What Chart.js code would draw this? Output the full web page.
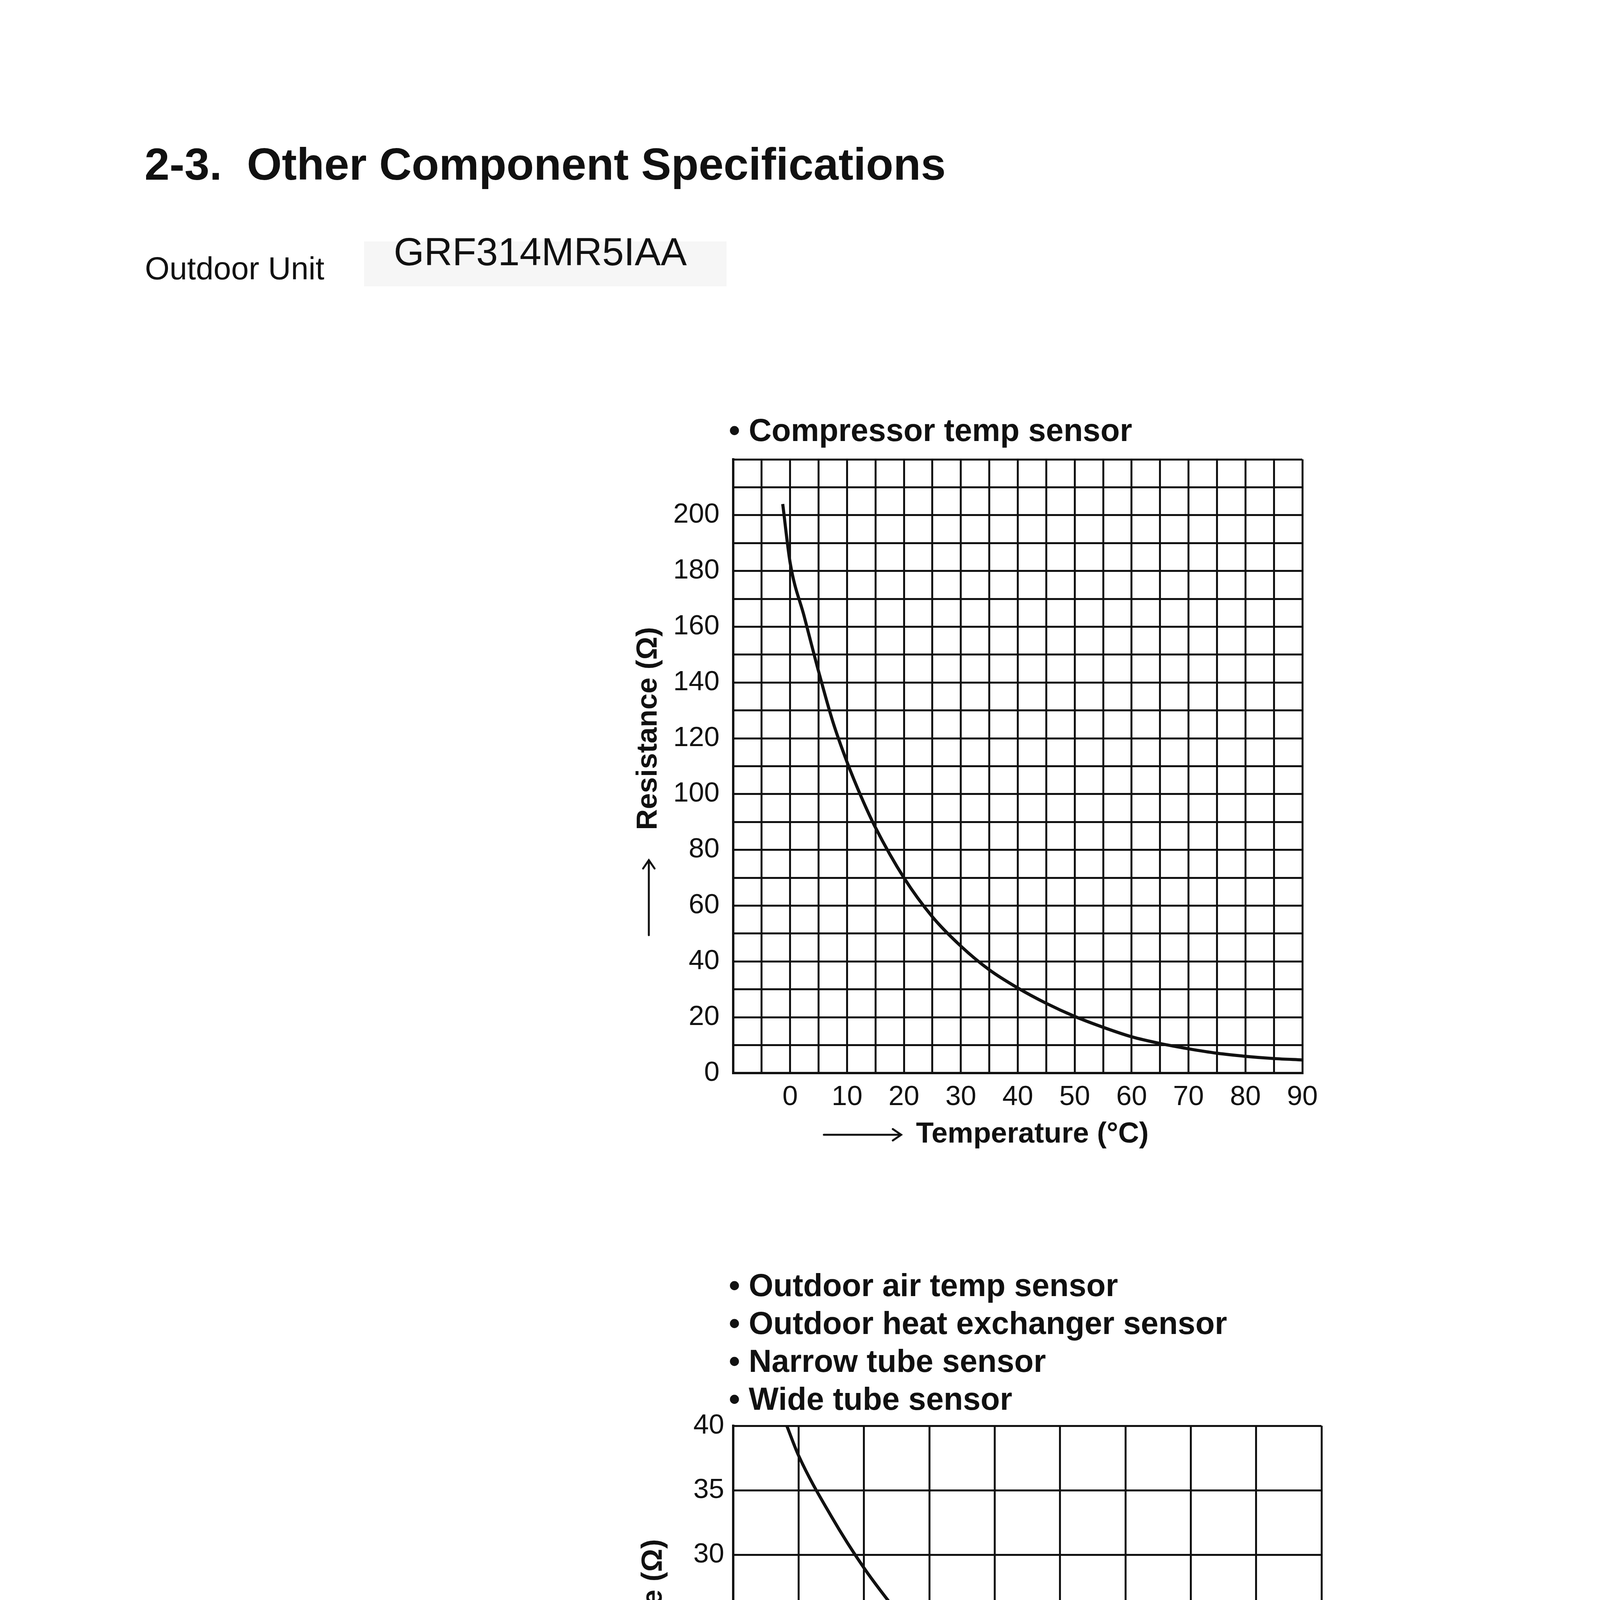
<!DOCTYPE html>
<html>
<head>
<meta charset="utf-8">
<script src="https://cdn.jsdelivr.net/npm/chart.js@4.4.1/dist/chart.umd.min.js"></script>
<style>
  html, body { margin: 0; padding: 0; background: #fff; }
  body { width: 4879px; height: 6833px; position: relative; overflow: hidden;
         font-family: "Liberation Sans", Arial, sans-serif; color: #111; }
  .txt { position: absolute; line-height: 1; white-space: pre; }
  canvas { position: absolute; }
</style>
</head>
<body>
<div class="txt" style="left:370px; top:363px; font-size:115px; font-weight:bold;">2-3.  Other Component Specifications</div>
<div class="txt" style="left:371px; top:647px; font-size:81px;">Outdoor Unit</div>
<div style="position:absolute; left:932px; top:618px; width:928px; height:115px; background:#f6f6f6;"></div>
<div class="txt" style="left:1008px; top:594px; font-size:100px;">GRF314MR5IAA</div>
<div class="txt" style="left:2432px; top:6403px; font-size:75px; font-weight:bold;">4</div>
<div style="position:absolute; left:0; top:6818px; width:4879px; height:15px; background:#111;"></div>

<canvas id="compChart" width="1950" height="2000" style="left:1550px; top:1000px; width:1950px; height:2000px;"></canvas>
<canvas id="airChart" width="2000" height="2000" style="left:1550px; top:3200px; width:2000px; height:2000px;"></canvas>

<script>
// compressor temp sensor curve
const compTemps = [-1.3, 0, 2.5, 5, 7.5, 10, 12.5, 15, 20, 25, 30, 35, 40, 45, 50, 55, 60, 65, 70, 75, 80, 85, 90];
const compRes = [204, 183, 163.5, 144, 126, 111.5, 99, 88, 70, 56, 45.5, 37, 30.5, 25, 20.3, 16.4, 13, 10.6, 8.7, 7.1, 6, 5.2, 4.7];
const compXTicks = [0, 10, 20, 30, 40, 50, 60, 70, 80, 90];
const compYTicks = [0, 20, 40, 60, 80, 100, 120, 140, 160, 180, 200];
const compNames = ['Compressor temp sensor'];

// outdoor air / heat exchanger / tube sensors
const airTemps = [-20.9, -20, -17.5, -15, -12, -10, -7.4, -5, 0, 5, 10, 15, 20];
const airRes = [40, 37.7, 33, 29, 25, 22.6, 20, 17.9, 14.5, 11.8, 9.4, 7.5, 5.9];
const airXTicks = [-20, -15, -10, -5, 0, 5, 10, 15, 20];
const airXLabels = ['\u221220', '\u221215', '\u221210', '\u22125', '0', '5', '10', '15', '20'];
const airYTicks = [0, 5, 10, 15, 20, 25, 30, 35, 40];
const airNames = ['Outdoor air temp sensor', 'Outdoor heat exchanger sensor', 'Narrow tube sensor', 'Wide tube sensor'];

const xTitle = 'Temperature (\u00B0C)';
const yTitle = 'Resistance (\u03A9)';

const FAMILY = "'Liberation Sans', 'DejaVu Sans', Arial, sans-serif";
const INK = '#111';

function arrow(ctx, x1, y1, x2, y2) {
    const ang = Math.atan2(y2 - y1, x2 - x1);
    const h = 26;
    ctx.beginPath();
    ctx.moveTo(x1, y1);
    ctx.lineTo(x2, y2);
    ctx.moveTo(x2 - h * Math.cos(ang - 0.6), y2 - h * Math.sin(ang - 0.6));
    ctx.lineTo(x2, y2);
    ctx.lineTo(x2 - h * Math.cos(ang + 0.6), y2 - h * Math.sin(ang + 0.6));
    ctx.stroke();
}

// bullet lines above the plot and the arrowed axis captions
const captions = {
    id: 'captions',
    afterDraw(chart, args, o) {
        const ctx = chart.ctx;
        const a = chart.chartArea;
        const n = o.lines.length;
        ctx.save();
        ctx.fillStyle = INK;
        ctx.strokeStyle = INK;
        ctx.lineWidth = 5;
        ctx.lineCap = 'round';
        ctx.textBaseline = 'middle';
        ctx.textAlign = 'left';

        ctx.font = 'bold 81px ' + FAMILY;
        o.lines.forEach((t, i) => {
            ctx.fillText('\u2022 ' + t, a.left - 11, a.top - o.lastGap - (n - 1 - i) * o.lineGap);
        });

        ctx.font = 'bold 74px ' + FAMILY;
        const xy = a.bottom + o.x.dy;
        arrow(ctx, a.left + o.x.from, xy, a.left + o.x.to, xy);
        ctx.fillText(xTitle, a.left + o.x.textAt, xy);

        const yx = a.left - o.y.dx;
        arrow(ctx, yx, a.bottom - o.y.from, yx, a.bottom - o.y.to);
        ctx.translate(yx, a.bottom - o.y.textAt);
        ctx.rotate(-Math.PI / 2);
        ctx.fillText(yTitle, 0, 0);
        ctx.restore();
    }
};

function makeChart(id, cfg) {
    const points = cfg.temps.map((t, i) => ({ x: t, y: cfg.res[i] }));
    return new Chart(document.getElementById(id), {
        type: 'scatter',
        data: {
            datasets: [{
                data: points,
                showLine: true,
                borderColor: INK,
                borderWidth: 8,
                pointRadius: 0,
                cubicInterpolationMode: 'monotone'
            }]
        },
        options: {
            responsive: false,
            devicePixelRatio: 1,
            animation: false,
            layout: { padding: cfg.padding },
            plugins: {
                legend: { display: false },
                tooltip: { enabled: false },
                captions: { lines: cfg.names, lineGap: 97, lastGap: cfg.lastGap, x: cfg.xCap, y: cfg.yCap }
            },
            scales: {
                x: {
                    type: 'linear',
                    min: cfg.xMin, max: cfg.xMax,
                    afterFit: (s) => { s.height = cfg.xHeight; },
                    grid: { color: INK, lineWidth: 5, drawTicks: false },
                    border: { color: INK, width: 6 },
                    ticks: {
                        stepSize: cfg.xStep,
                        autoSkip: false,
                        maxRotation: 0,
                        padding: cfg.xPad,
                        color: INK,
                        font: { family: FAMILY, size: 71 },
                        callback: (v) => {
                            const k = cfg.xTicks.indexOf(v);
                            return k < 0 ? '' : cfg.xLabels[k];
                        }
                    }
                },
                y: {
                    type: 'linear',
                    min: 0, max: cfg.yMax,
                    afterFit: (s) => { s.width = 307; },
                    grid: { color: INK, lineWidth: 5, drawTicks: false },
                    border: { color: INK, width: 6 },
                    ticks: {
                        stepSize: cfg.yStep,
                        autoSkip: false,
                        padding: cfg.yPad,
                        color: INK,
                        font: { family: FAMILY, size: 71 },
                        callback: (v) => cfg.yTicks.includes(v) ? String(v) : ''
                    }
                }
            }
        },
        plugins: [captions]
    });
}

makeChart('compChart', {
    temps: compTemps, res: compRes, names: compNames, lastGap: 69,
    padding: { left: 20, top: 176, right: 166, bottom: 0 },
    xMin: -10, xMax: 90, xStep: 5, xHeight: 253, xPad: 20,
    xTicks: compXTicks, xLabels: compXTicks.map(String),
    yMax: 220, yStep: 10, yPad: 35, yTicks: compYTicks,
    xCap: { dy: 158, from: 232, to: 430, textAt: 468 },
    yCap: { dx: 216, from: 353, to: 545, textAt: 622 }
});

makeChart('airChart', {
    temps: airTemps, res: airRes, names: airNames, lastGap: 63,
    padding: { left: 20, top: 450, right: 167, bottom: 0 },
    xMin: -25, xMax: 20, xStep: 5, xHeight: 227, xPad: 14,
    xTicks: airXTicks, xLabels: airXLabels,
    yMax: 40, yStep: 5, yPad: 23, yTicks: airYTicks,
    xCap: { dy: 141, from: 244, to: 437, textAt: 499 },
    yCap: { dx: 203, from: 251, to: 443, textAt: 513 }
});
</script>
</body>
</html>
